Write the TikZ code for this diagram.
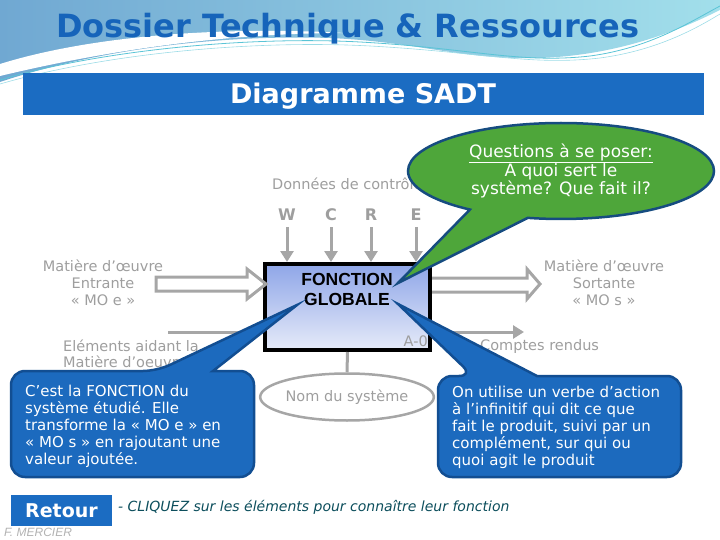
\documentclass[tikz,border=0pt]{standalone}
\usepackage{fontspec}
\setmainfont{DejaVu Sans}
\newfontfamily\arialf{Liberation Sans}
\usetikzlibrary{arrows.meta,positioning,shapes.geometric,shapes.callouts}

\definecolor{bleubarre}{RGB}{27,108,194}
\definecolor{bleutitre}{RGB}{22,100,186}
\definecolor{gristrait}{RGB}{166,166,166}
\definecolor{gristexte}{RGB}{158,158,158}
\definecolor{bleubulle}{RGB}{28,106,190}
\definecolor{bordbulle}{RGB}{18,78,146}
\definecolor{vertbulle}{RGB}{78,166,58}
\definecolor{bordvert}{RGB}{22,76,128}
\definecolor{hautboite}{RGB}{143,166,232}
\definecolor{basboite}{RGB}{230,235,249}
\definecolor{bleuciel}{RGB}{112,168,210}
\definecolor{cyanclair}{RGB}{162,223,235}
\definecolor{filet}{RGB}{90,196,214}
\definecolor{sarcelle}{RGB}{12,78,92}

\begin{document}
\begin{tikzpicture}[x=1pt,y=-1pt,
  gris/.style={text=gristexte,font=\fontsize{14.5}{17}\selectfont,align=center,inner sep=0pt},
  lettre/.style={text=gristexte,font=\bfseries\fontsize{16}{16}\selectfont,inner sep=0pt,outer sep=6pt},
  fleche/.style={draw=gristrait,line width=3pt,-{Triangle[length=11pt,width=13pt]}},
  creux/.style={draw=gristrait,line width=3pt,line join=miter},
  boite/.style={draw=black,line width=4pt,top color=hautboite,bottom color=basboite,
    minimum width=165pt,minimum height=86pt},
  bulle/.style={fill=bleubulle,draw=bordbulle,line width=2.5pt},
  btexte/.style={text=white,font=\fontsize{15}{17}\selectfont,align=left,inner sep=0pt,anchor=west}]
\useasboundingbox (0,0) rectangle (720,540);

% bandeau du haut
\shade[left color=bleuciel,right color=cyanclair] (0,0) -- (720,0) -- (720,10)
  .. controls (680,30) and (620,55) .. (540,58) .. controls (460,60) and (420,42) .. (330,38)
  .. controls (200,34) and (80,55) .. (0,82) -- cycle;
\fill[white] (0,64) .. controls (90,36) and (220,26) .. (345,33)
  .. controls (220,33) and (100,52) .. (0,76) -- cycle;
\draw[filet,line width=0.8pt] (0,80) .. controls (100,50) and (250,36) .. (360,42)
  .. controls (470,48) and (520,64) .. (590,56) .. controls (650,48) and (690,22) .. (720,6);
\draw[filet!60,line width=0.6pt] (0,84) .. controls (110,52) and (260,40) .. (370,46)
  .. controls (480,52) and (530,66) .. (600,58) .. controls (660,50) and (700,26) .. (720,14);

\node[font=\bfseries\fontsize{32}{32}\selectfont,text=bleutitre,inner sep=0pt] (titre) at (348,29) {Dossier Technique \& Ressources};

\node[fill=bleubarre,minimum width=681pt,minimum height=42pt,inner sep=0pt] (barre) at (363.5,94) {};
\node[font=\bfseries\fontsize{27}{27}\selectfont,text=white,inner sep=0pt] (sadt) at (363,96) {Diagramme SADT};

% actigramme A-0
\node[boite] (fg) at (347.5,307) {};
\node[font=\arialf\bfseries\fontsize{17.5}{20}\selectfont,align=center,inner sep=0pt] (fgt) at (347,289) {FONCTION\\GLOBALE};
\node[gris,anchor=east] (a0) at (428,341) {A-0};

\node[gris,anchor=west] (donnees) at (272,184) {Données de contrôle};
\node[lettre] (w) at (287,215) {W};
\node[lettre] (c) at (331,215) {C};
\node[lettre] (r) at (371,215) {R};
\node[lettre] (e) at (416,215) {E};
\foreach \l in {w,c,r,e}
  \draw[fleche] (\l) -- (\l |- fg.north);

\node[gris] (moe) at (103,283) {Matière d'œuvre\\Entrante\\« MO e »};
\node[gris] (mos) at (604,283) {Matière d'œuvre\\Sortante\\« MO s »};
\draw[creux] ([xshift=3pt,yshift=23pt]fg.west) -- ++(-19,-15) -- ++(0,8) -- ++(-91,0)
  -- ++(0,14) -- ++(91,0) -- ++(0,8) -- cycle;
\draw[creux] ([yshift=29pt]fg.east) -- ++(95,0) -- ++(0,-9) -- ++(13,15) -- ++(-13,15)
  -- ++(0,-7) -- ++(-95,0);

\coordinate (ea) at (168,332);
\draw[fleche] (ea) -- (ea -| fg.west);
\node[gris,anchor=west,align=left,font=\fontsize{14.5}{16}\selectfont] (aide) at (63,354) {Eléments aidant la\\Matière d’oeuvre};
\coordinate (cr) at (524,332);
\draw[fleche] (fg.east |- cr) -- (cr);
\node[gris,anchor=west] (comptes) at (480,346) {Comptes rendus};

\node[ellipse,draw=gristrait,line width=2.5pt,minimum width=172pt,minimum height=47pt,gris] (ns) at (347,397) {Nom du système};
\draw[draw=gristrait,line width=3pt] (fg.south) -- (ns.north);

% bulles
\coordinate (pv) at (398,283);
\coordinate (pg) at (297,305);
\coordinate (pd) at (398,304);
\node[ellipse callout,fill=vertbulle,draw=bordvert,line width=2.5pt,minimum width=306pt,
  minimum height=96pt,inner sep=0pt,callout absolute pointer={(pv)},callout pointer arc=24,
  text=white,align=center,font=\fontsize{17}{18}\selectfont] (quest) at (561,171)
  {\underline{Questions à se poser:}\\A quoi sert le\\système? Que fait il?};

\draw[bulle] (157,371) -- (pg) -- (213,371) -- (220,371) [rounded corners=14pt] -- (254,371)
  -- (254,477) -- (11,477) -- (11,371) -- cycle;
\node[btexte] (fct) at (25,426) {C’est la FONCTION du\\système étudié. Elle\\transforme la « MO e » en\\« MO s » en rajoutant une\\valeur ajoutée.};
\draw[bulle] (473,376) -- (pd) -- (537,376) -- (545,376) [rounded corners=14pt] -- (681,376)
  -- (681,477) -- (438,477) -- (438,376) -- cycle;
\node[btexte] (verbe) at (452,427) {On utilise un verbe d’action\\à l’infinitif qui dit ce que\\fait le produit, suivi par un\\complément, sur qui ou\\quoi agit le produit};

% bas de page
\node[fill=bleubarre,minimum width=101pt,minimum height=31pt,inner sep=0pt,text=white,
  font=\bfseries\fontsize{19}{19}\selectfont] (retour) at (61.5,510.5) {Retour};
\node[anchor=west,inner sep=0pt,text=sarcelle,font=\itshape\fontsize{14}{14}\selectfont] (clic) at (118,507)
  {- CLIQUEZ sur les éléments pour connaître leur fonction};
\node[anchor=base west,inner sep=0pt,text=black!30,font=\arialf\itshape\fontsize{12}{12}\selectfont] (auteur) at (4,536) {F. MERCIER};
\end{tikzpicture}
\end{document}
